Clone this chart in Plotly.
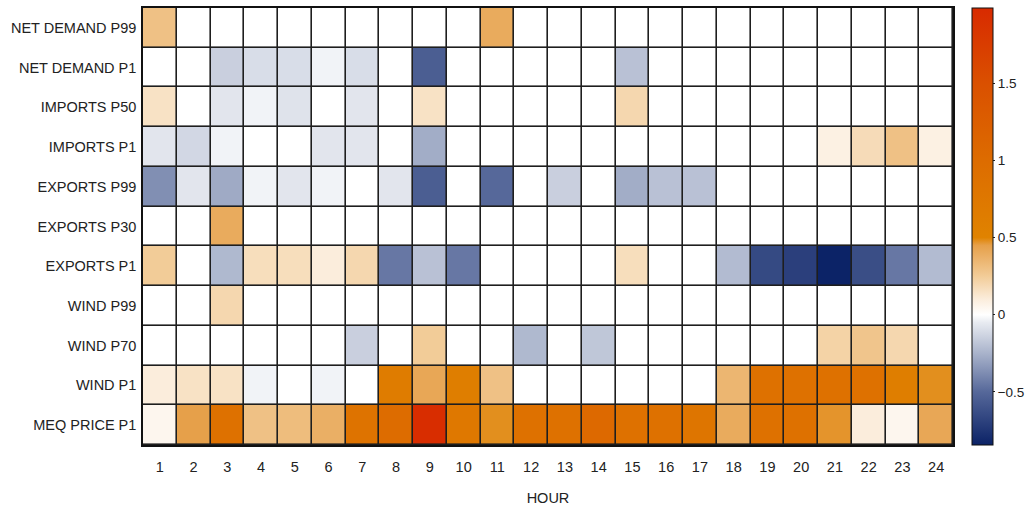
import plotly.graph_objects as go

# Hours of the day (columns)
hours = list(range(1, 25))

# Row labels, top to bottom
rows = [
    "NET DEMAND P99",
    "NET DEMAND P1",
    "IMPORTS P50",
    "IMPORTS P1",
    "EXPORTS P99",
    "EXPORTS P30",
    "EXPORTS P1",
    "WIND P99",
    "WIND P70",
    "WIND P1",
    "MEQ PRICE P1",
]

# Values per row, hour 1..24
net_demand_p99 = [0.30, 0, 0, 0, 0, 0, 0, 0, 0, 0, 0.40, 0, 0, 0, 0, 0, 0, 0, 0, 0, 0, 0, 0, 0]
net_demand_p1 = [0, 0, -0.15, -0.10, -0.10, -0.03, -0.10, 0, -0.55, 0, 0, 0, 0, 0, -0.20, 0, 0, 0, 0, 0, 0, 0, 0, 0]
imports_p50 = [0.15, 0, -0.07, -0.03, -0.08, 0, -0.07, 0, 0.15, 0, 0, 0, 0, 0, 0.20, 0, 0, 0, 0, 0, 0, 0, 0, 0]
imports_p1 = [-0.07, -0.12, -0.03, 0, 0, -0.07, -0.07, 0, -0.27, 0, 0, 0, 0, 0, 0, 0, 0, 0, 0, 0, 0.08, 0.18, 0.30, 0.08]
exports_p99 = [-0.37, -0.07, -0.28, -0.03, -0.07, -0.03, 0, -0.07, -0.55, 0, -0.50, 0, -0.15, 0, -0.27, -0.20, -0.20, 0, 0, 0, 0, 0, 0, 0]
exports_p30 = [0, 0, 0.40, 0, 0, 0, 0, 0, 0, 0, 0, 0, 0, 0, 0, 0, 0, 0, 0, 0, 0, 0, 0, 0]
exports_p1 = [0.25, 0, -0.23, 0.17, 0.17, 0.10, 0.20, -0.45, -0.20, -0.45, 0, 0, 0, 0, 0.17, 0, 0, -0.22, -0.65, -0.70, -0.84, -0.63, -0.45, -0.22]
wind_p99 = [0, 0, 0.20, 0, 0, 0, 0, 0, 0, 0, 0, 0, 0, 0, 0, 0, 0, 0, 0, 0, 0, 0, 0, 0]
wind_p70 = [0, 0, 0, 0, 0, 0, -0.15, 0, 0.25, 0, 0, -0.23, 0, -0.18, 0, 0, 0, 0, 0, 0, 0.22, 0.28, 0.20, 0]
wind_p1 = [0.10, 0.15, 0.15, -0.03, 0, -0.03, 0, 0.65, 0.42, 0.60, 0.30, 0, 0, 0, 0, 0, 0, 0.35, 0.90, 0.90, 0.90, 0.90, 0.60, 0.48]
meq_price_p1 = [0.05, 0.45, 0.90, 0.30, 0.32, 0.38, 0.85, 1.00, 1.95, 0.75, 0.48, 0.90, 0.90, 1.05, 0.90, 0.90, 0.80, 0.40, 0.90, 0.90, 0.47, 0.10, 0.05, 0.42]

z = [
    net_demand_p99, net_demand_p1, imports_p50, imports_p1, exports_p99,
    exports_p30, exports_p1, wind_p99, wind_p70, wind_p1, meq_price_p1,
]

# Colour range of the scale
z_min, z_max = -0.845, 1.99

# Diverging blue-white-orange-red scale, anchored on data values
anchors = [
    (-0.845, "#0b2266"),
    (-0.5, "#56689a"),
    (-0.25, "#a9b3cb"),
    (-0.05, "#e8ebf1"),
    (0.0, "#ffffff"),
    (0.1, "#fbeddc"),
    (0.25, "#f2cc98"),
    (0.45, "#e6a04a"),
    (0.5, "#e08300"),
    (1.0, "#dd6c00"),
    (1.5, "#da5000"),
    (1.99, "#d82a00"),
]
colorscale = [[(v - z_min) / (z_max - z_min), c] for v, c in anchors]
colorscale[0][0] = 0.0
colorscale[-1][0] = 1.0

font_family = "Liberation Sans, Arial, sans-serif"

fig = go.Figure(
    go.Heatmap(
        z=z,
        x=hours,
        y=rows,
        zmin=z_min,
        zmax=z_max,
        colorscale=colorscale,
        xgap=1.6,
        ygap=1.6,
        colorbar=dict(
            x=1.0235,
            xanchor="left",
            xpad=0,
            y=0.5,
            yanchor="middle",
            ypad=0,
            len=1.0,
            lenmode="fraction",
            thickness=21,
            outlinecolor="#111111",
            outlinewidth=1,
            tickvals=[-0.5, 0, 0.5, 1, 1.5],
            ticks="outside",
            ticklen=2,
            tickcolor="#222222",
            tickfont=dict(family=font_family, size=13.5, color="#222222"),
        ),
        hovertemplate="Hour %{x}<br>%{y}<br>%{z}<extra></extra>",
    )
)

fig.update_layout(
    width=1026,
    height=506,
    margin=dict(l=143, r=73, t=8, b=61, autoexpand=False),
    paper_bgcolor="white",
    plot_bgcolor="#1e1e1e",
    font=dict(family=font_family, size=14.5, color="#222222"),
    xaxis=dict(
        tickmode="array",
        tickvals=hours,
        ticktext=[str(h) for h in hours],
        range=[0.5, 24.5],
        showgrid=False,
        zeroline=False,
        showline=True,
        linecolor="#111111",
        linewidth=1.5,
        mirror=True,
        ticks="outside",
        ticklen=8,
        tickcolor="rgba(0,0,0,0)",
        title=dict(text="HOUR", standoff=19, font=dict(size=14.5)),
    ),
    yaxis=dict(
        autorange="reversed",
        showgrid=False,
        zeroline=False,
        showline=True,
        linecolor="#111111",
        linewidth=1.5,
        mirror=True,
        ticks="outside",
        ticklen=2,
        tickcolor="rgba(0,0,0,0)",
    ),
)

fig.write_html("out.html")
